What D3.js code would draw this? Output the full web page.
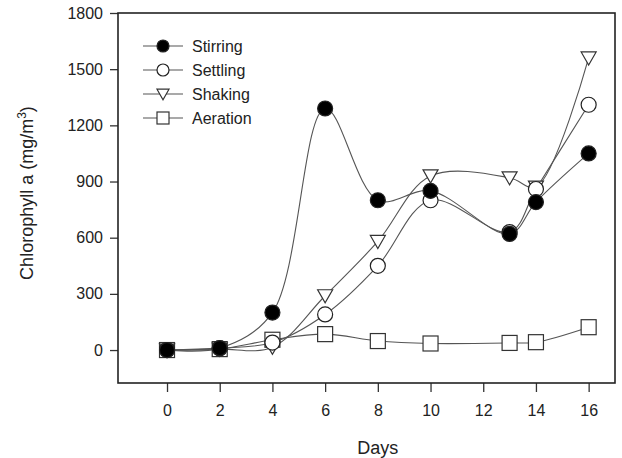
<!DOCTYPE html>
<html>
<head>
<meta charset="utf-8">
<script src="https://cdn.jsdelivr.net/npm/d3@7"></script>
<style>
  body { margin: 0; background: #fff; }
  text { font-family: "Liberation Sans", Arial, sans-serif; fill: #222; }
</style>
</head>
<body>
<div id="chart"></div>
<script>
// data
const days = [0, 2, 4, 6, 8, 10, 13, 14, 16];
const stirring = [0, 10, 200, 1290, 800, 850, 620, 790, 1050];
const settling = [0, 10, 40, 190, 450, 800, 630, 860, 1310];
const shaking = [0, 5, 15, 290, 580, 930, 920, 870, 1560];
const aeration = [0, 5, 55, 85, 48, 35, 38, 42, 122];
const seriesNames = ["Stirring", "Settling", "Shaking", "Aeration"];
const xTicks = [0, 2, 4, 6, 8, 10, 12, 14, 16];
const yTicks = [0, 300, 600, 900, 1200, 1500, 1800];

const width = 622, height = 458;
const plotLeft = 118, plotRight = 615, plotTop = 13, plotBottom = 383;

const svg = d3.select("#chart").append("svg")
    .attr("width", width)
    .attr("height", height);

const x = d3.scaleLinear().domain([-1.86, 17]).range([plotLeft, plotRight]);
const y = d3.scaleLinear().domain([-176, 1800]).range([plotBottom, plotTop]);

// axes, outward ticks
const xAxis = svg.append("g")
    .attr("transform", `translate(0,${plotBottom})`)
    .call(d3.axisBottom(x).tickValues(xTicks).tickSize(9).tickPadding(13).tickFormat(d3.format("d")));
const yAxis = svg.append("g")
    .attr("transform", `translate(${plotLeft},0)`)
    .call(d3.axisLeft(y).tickValues(yTicks).tickSize(8).tickPadding(7).tickFormat(d3.format("d")));

[xAxis, yAxis].forEach(g => {
    g.select(".domain").remove();
    g.selectAll(".tick line").attr("stroke", "#333").attr("stroke-width", 1.3);
    g.selectAll(".tick text").style("font-size", "16px").attr("fill", "#222");
});

// frame
svg.append("rect")
    .attr("x", plotLeft).attr("y", plotTop)
    .attr("width", plotRight - plotLeft).attr("height", plotBottom - plotTop)
    .attr("fill", "none")
    .attr("stroke", "#222")
    .attr("stroke-width", 1.6);

// labels
svg.append("text")
    .attr("x", x(8)).attr("y", 454)
    .attr("text-anchor", "middle")
    .style("font-size", "18px")
    .text("Days");

const yl = svg.append("text")
    .attr("transform", `translate(33,193) rotate(-90)`)
    .attr("text-anchor", "middle")
    .style("font-size", "18px");
yl.append("tspan").text("Chlorophyll a (mg/m");
yl.append("tspan").attr("dy", -7).style("font-size", "12px").text("3");
yl.append("tspan").attr("dy", 7).text(")");

// markers
const triPath = r => `M${-r},${-r * 0.8}L${r},${-r * 0.8}L0,${r * 0.95}Z`;
function marker(g, type, r) {
    if (type === 0 || type === 1) {
        g.append("circle").attr("r", r)
            .attr("fill", type === 0 ? "#000" : "#fff")
            .attr("stroke", "#222").attr("stroke-width", 1.2);
    } else if (type === 2) {
        g.append("path").attr("d", triPath(r))
            .attr("fill", "#fff").attr("stroke", "#333").attr("stroke-width", 1.2);
    } else {
        g.append("rect").attr("x", -r).attr("y", -r)
            .attr("width", 2 * r).attr("height", 2 * r)
            .attr("fill", "#fff").attr("stroke", "#333").attr("stroke-width", 1.2);
    }
}

const allSeries = [stirring, settling, shaking, aeration];
const line = d3.line()
    .x(d => x(d[0]))
    .y(d => y(d[1]))
    .curve(d3.curveCatmullRom.alpha(0.5));

// lines first, drawn back to front
[3, 2, 1, 0].forEach(i => {
    const pts = days.map((d, j) => [d, allSeries[i][j]]);
    svg.append("path")
        .attr("d", line(pts))
        .attr("fill", "none")
        .attr("stroke", "#555")
        .attr("stroke-width", 1.1);
});
[3, 2, 1, 0].forEach(i => {
    days.forEach((d, j) => {
        const g = svg.append("g")
            .attr("transform", `translate(${x(d)},${y(allSeries[i][j])})`);
        marker(g, i, 7.5);
    });
});

// legend
const legend = svg.append("g");
seriesNames.forEach((name, i) => {
    const ly = 46 + i * 24;
    legend.append("line")
        .attr("x1", 143).attr("x2", 183)
        .attr("y1", ly).attr("y2", ly)
        .attr("stroke", "#555").attr("stroke-width", 1.1);
    const g = legend.append("g").attr("transform", `translate(163,${ly})`);
    marker(g, i, 6);
    legend.append("text")
        .attr("x", 192).attr("y", ly + 6)
        .style("font-size", "16px")
        .text(name);
});
</script>
</body>
</html>
